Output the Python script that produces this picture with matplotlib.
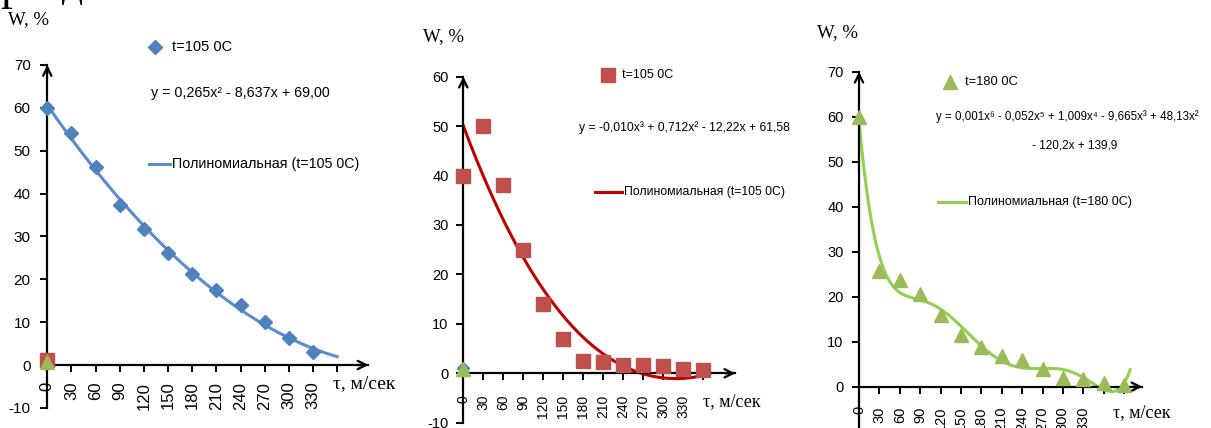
import numpy as np
import matplotlib.pyplot as plt
from matplotlib.lines import Line2D

plt.rcParams['axes.unicode_minus'] = False

W, H = 1211, 428
fig = plt.figure(figsize=(W / 100, H / 100), dpi=100)

SANS = ['Liberation Sans', 'DejaVu Sans']
SERIF = ['Liberation Serif', 'DejaVu Serif']

# ---- data ----
cat_labels = ['0', '30', '60', '90', '120', '150', '180', '210', '240', '270', '300', '330']

w_blue = [60, 54.2, 46.2, 37.4, 31.7, 26.1, 21.3, 17.6, 13.9, 10.1, 6.2, 3.1]
w_red = [40, 50, 38, 25, 14, 6.9, 2.5, 2.2, 1.7, 1.6, 1.4, 0.9, 0.7]
w_green = [60, 25.8, 23.7, 20.7, 16, 11.5, 8.9, 6.8, 5.9, 4.0, 1.9, 1.7, 0.9, 0.3]

# stray points sitting at the first category
stray1_red, stray1_green = 1.2, 0.8
stray2_blue, stray2_green = 1.1, 0.9

deg_blue, deg_green = 2, 6
# red trendline: coefficients of the equation shown on the chart (x^3 term estimated
# a bit finer than the printed -0,010 so the tail dips like in the picture)
red_trend = [-0.0107, 0.712, -12.22, 61.58]

eq_blue = 'y = 0,265x² - 8,637x + 69,00'
eq_red = 'y = -0,010x³ + 0,712x² - 12,22x + 61,58'
eq_green1 = 'y = 0,001x⁶ - 0,052x⁵ + 1,009x⁴ - 9,665x³ + 48,13x²'
eq_green2 = '- 120,2x + 139,9'

C_BLUE, C_BLUE_L = '#4F81BD', '#5B8BD0'
C_RED, C_RED_L = '#C0504D', '#C00000'
C_GREEN, C_GREEN_L = '#9BBB59', '#92D050'


def panel(x0, dx, y0, dy, xlim, ylim):
    l, r = x0 + xlim[0] * dx, x0 + xlim[1] * dx
    t, b = y0 - ylim[1] * dy, y0 - ylim[0] * dy
    ax = fig.add_axes([l / W, 1 - b / H, (r - l) / W, (b - t) / H])
    ax.set_xlim(xlim)
    ax.set_ylim(ylim)
    ax.patch.set_alpha(0)
    return ax


def style(ax, ymin, ymax, yfirst, xend, nticks, fs_y, fs_x, pad_y, pad_x):
    for s in ['top', 'right']:
        ax.spines[s].set_visible(False)
    for s in ['left', 'bottom']:
        ax.spines[s].set_position(('data', 0))
        ax.spines[s].set_linewidth(1.6)
    ax.spines['left'].set_bounds(ymin, ymax)
    ax.spines['bottom'].set_bounds(0, xend)
    ax.set_yticks(range(yfirst, ymax + 1, 10))
    ax.set_xticks(range(nticks))
    ax.set_xticklabels(cat_labels + [''] * (nticks - len(cat_labels)), rotation=90)
    ax.tick_params(axis='y', length=5, width=1.4, pad=pad_y, labelsize=fs_y, colors='black')
    ax.tick_params(axis='x', length=5, width=1.4, pad=pad_x, labelsize=fs_x)
    for lab in ax.get_yticklabels() + ax.get_xticklabels():
        lab.set_family(SANS)
    ap = dict(arrowstyle='->,head_length=0.6,head_width=0.3', lw=1.6, color='black',
              shrinkA=0, shrinkB=0)
    ax.annotate('', xy=(0, ymax), xytext=(0, ymax - 2), arrowprops=ap, annotation_clip=False)
    ax.annotate('', xy=(xend, 0), xytext=(xend - 0.5, 0), arrowprops=ap, annotation_clip=False)


def trend_fit(ax, w, deg, color, extra=0.0):
    n = np.arange(1, len(w) + 1)
    coef = np.polyfit(n, w, deg)
    xs = np.linspace(1, len(w) + extra, 300)
    ax.plot(xs - 1, np.polyval(coef, xs), color=color, lw=2.2, zorder=2, clip_on=False)


def ftext(x, y, s, size, va='center', **kw):
    fig.text(x / W, 1 - y / H, s, fontsize=size, family=kw.pop('family', SANS),
             va=va, **kw)


def fmark(x, y, **kw):
    fig.add_artist(Line2D([x / W], [1 - y / H], transform=fig.transFigure, ls='none', **kw))


def fline(x1, x2, y, color):
    fig.add_artist(Line2D([x1 / W, x2 / W], [1 - y / H, 1 - y / H],
                          transform=fig.transFigure, color=color, lw=2.2))


# ---- panel 1 ----
ax1 = panel(47.3, 24.15, 365, 4.286, (-1.5, 14.5), (-12, 72))
style(ax1, -10, 70, -10, 13.3, 13, 11, 12, 7, 7)
trend_fit(ax1, w_blue, deg_blue, C_BLUE_L, extra=1.0)
ax1.plot(range(len(w_blue)), w_blue, 'D', color=C_BLUE, ms=7, zorder=3, clip_on=False)
ax1.plot([0], [stray1_red], 's', color=C_RED, ms=9.5, zorder=4, clip_on=False)
ax1.plot([0], [stray1_green], '^', color=C_GREEN, ms=9.5, zorder=5, clip_on=False)

fmark(155, 47, marker='D', color=C_BLUE, ms=7)
ftext(172, 47, 't=105 0C', 10.5)
ftext(151, 93, eq_blue, 10.3)
fline(149, 170, 164, C_BLUE_L)
ftext(172, 164, 'Полиномиальная (t=105 0C)', 10.3)
ftext(8, 20, 'W, %', 13.5, family=SERIF)
ftext(333, 384, 'τ, м/сек', 14, family=SERIF)

# ---- panel 2 ----
ax2 = panel(463.3, 20.0, 373.3, 4.944, (-1.5, 14.5), (-12, 62))
style(ax2, -10, 60, -10, 13.6, 13, 10.5, 10, 5.5, 10.5)
xs2 = np.linspace(1, len(w_red), 300)
ax2.plot(xs2 - 1, np.polyval(red_trend, xs2), color=C_RED_L, lw=2.2, zorder=2)
ax2.plot(range(len(w_red)), w_red, 's', color=C_RED, ms=9.5, zorder=3, clip_on=False)
ax2.plot([0], [stray2_blue], 'D', color=C_BLUE, ms=6, zorder=4, clip_on=False)
ax2.plot([0], [stray2_green], '^', color=C_GREEN, ms=9.5, zorder=5, clip_on=False)

fmark(608, 75, marker='s', color=C_RED, ms=9.5)
ftext(622, 75, 't=105 0C', 9)
ftext(579, 128, eq_red, 8.7)
fline(595, 622, 192, C_RED_L)
ftext(624, 192, 'Полиномиальная (t=105 0C)', 8.8)
ftext(423, 37, 'W, %', 13.5, family=SERIF)
ftext(703, 402, 'τ, м/сек', 13, family=SERIF)

# ---- panel 3 ----
ax3 = panel(859, 20.39, 386.7, 4.5, (-1.5, 15.5), (-12, 72))
style(ax3, -10, 70, 0, 13.9, 14, 10.5, 10.5, 6, 9)
trend_fit(ax3, w_green, deg_green, C_GREEN_L, extra=0.3)
ax3.plot(range(len(w_green)), w_green, '^', color=C_GREEN, ms=9.5, zorder=3, clip_on=False)

fmark(950, 82, marker='^', color=C_GREEN, ms=9.5)
ftext(965, 82, 't=180 0C', 9.3)
ftext(936, 117, eq_green1, 8.3)
ftext(1075, 145, eq_green2, 8.5, ha='center')
fline(938, 966, 202, C_GREEN_L)
ftext(968, 202, 'Полиномиальная (t=180 0C)', 9)
ftext(817, 33, 'W, %', 13.5, family=SERIF)
ftext(1113, 413, 'τ, м/сек', 13, family=SERIF)

# fragment of the caption line above, cut by the top edge
ftext(0, -1, 'р', 34, va='baseline', family=SERIF)
ftext(62, -3, 'д', 30, va='baseline', family=SERIF)

fig.savefig('out.png', dpi=100)
